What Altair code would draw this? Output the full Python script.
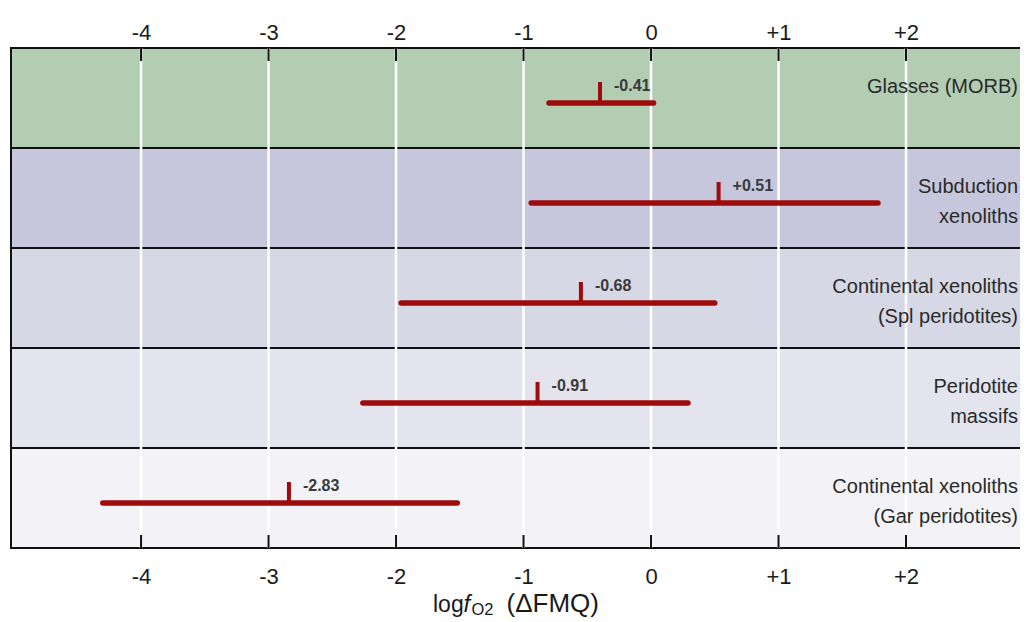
import altair as alt
import pandas as pd

# ---- data ----
categories = [
    "Glasses (MORB)",
    "Subduction xenoliths",
    "Continental xenoliths (Spl peridotites)",
    "Peridotite massifs",
    "Continental xenoliths (Gar peridotites)",
]
label_lines = [
    ["Glasses (MORB)"],
    ["Subduction", "xenoliths"],
    ["Continental xenoliths", "(Spl peridotites)"],
    ["Peridotite", "massifs"],
    ["Continental xenoliths", "(Gar peridotites)"],
]
range_low = [-0.80, -0.94, -1.96, -2.26, -4.30]
range_high = [0.02, 1.78, 0.50, 0.29, -1.52]
median_pos = [-0.40, 0.53, -0.55, -0.89, -2.84]
median_labels = ["-0.41", "+0.51", "-0.68", "-0.91", "-2.83"]
band_colors = ["#b3cdb3", "#c6c7dd", "#d6d8e5", "#e3e4ed", "#f3f3f7"]
tick_values = [-4, -3, -2, -1, 0, 1, 2]
x_domain = [-5.02, 2.894]

W, H = 1009, 500
FONT = "Liberation Sans"
RED = "#9e0b0b"

df = pd.DataFrame({
    "cat": categories,
    "lines": label_lines,
    "lo": range_low,
    "hi": range_high,
    "med": median_pos,
    "mlabel": median_labels,
    "color": band_colors,
})
ticks = pd.DataFrame({"t": tick_values})

xscale = alt.Scale(domain=x_domain, nice=False, zero=False)
yscale = alt.Scale(domain=categories, paddingInner=0, paddingOuter=0)
Y = alt.Y("cat:N", scale=yscale, axis=None, sort=categories)

base = alt.Chart(df)

bands = base.mark_rect(stroke="#111111", strokeWidth=2).encode(
    y=Y,
    x=alt.value(0),
    x2=alt.value(W + 6),
    fill=alt.Color("color:N", scale=None),
)

label_expr = "(datum.value > 0 ? '+' : '') + toString(datum.value)"

grid = alt.Chart(ticks).mark_rule(color="white", strokeWidth=2.5).encode(
    x=alt.X("t:Q", scale=xscale, title=None,
            axis=alt.Axis(orient="top", values=tick_values, labelExpr=label_expr,
                          ticks=False, tickSize=0, domain=False, grid=False,
                          labelFontSize=22, labelFont=FONT, labelColor="#1a1a1a",
                          labelPadding=4)),
)

top_ticks = alt.Chart(ticks).mark_rule(color="#111111", strokeWidth=2).encode(
    x=alt.X("t:Q", scale=xscale, title=None,
            axis=alt.Axis(orient="bottom", values=tick_values, labelExpr=label_expr,
                          ticks=False, tickSize=0, domain=False, grid=False,
                          labelFontSize=22, labelFont=FONT, labelColor="#1a1a1a",
                          labelPadding=18)),
    y=alt.value(0),
    y2=alt.value(13),
)

bottom_ticks = alt.Chart(ticks).mark_rule(color="#111111", strokeWidth=2).encode(
    x=alt.X("t:Q", scale=xscale, axis=None),
    y=alt.value(H - 13),
    y2=alt.value(H),
)

ranges = base.mark_rule(color=RED, strokeWidth=5.5, strokeCap="round", yOffset=5).encode(
    x=alt.X("lo:Q", scale=xscale, axis=None),
    x2="hi:Q",
    y=Y,
)

medians = base.mark_tick(color=RED, orient="vertical", size=23, thickness=4,
                         opacity=1, yOffset=-4.5).encode(
    x=alt.X("med:Q", scale=xscale, axis=None),
    y=Y,
)

med_text = base.mark_text(align="left", baseline="middle", dx=14, dy=-12,
                          font=FONT, fontSize=16, fontWeight="bold",
                          color="#3a3a3a").encode(
    x=alt.X("med:Q", scale=xscale, axis=None),
    y=Y,
    text="mlabel:N",
)

cat_text = base.mark_text(align="right", baseline="alphabetic", dy=-5,
                          font=FONT, fontSize=20, lineHeight=30,
                          color="#2a2a2a").encode(
    x=alt.value(W - 2),
    y=Y,
    text="lines",
)

# axis title: log f_O2 (ΔFMQ) built from styled pieces
cx = W / 2
title_parts = [
    ("log", -82.5, H + 64, 23, "normal"),
    ("f", -52, H + 64, 24, "italic"),
    ("O2", -44, H + 67, 16.5, "normal"),
    ("(\u0394FMQ)", -9, H + 64, 26, "normal"),
]
title_layers = []
for txt, off, yy, fs, style in title_parts:
    title_layers.append(
        alt.Chart(pd.DataFrame({"s": [txt]})).mark_text(
            align="left", baseline="alphabetic", font=FONT, fontSize=fs,
            fontStyle=style, color="#1a1a1a").encode(
            x=alt.value(cx + off), y=alt.value(yy), text="s:N")
    )

chart = alt.layer(
    bands, grid, top_ticks, bottom_ticks, ranges, medians, med_text, cat_text,
    *title_layers
).resolve_axis(x="independent").properties(
    width=W, height=H,
    autosize=alt.AutoSizeParams(type="none"),
    padding={"left": 3, "top": 40, "right": 0, "bottom": 72},
).configure_view(stroke=None).configure(background="white")

chart.save("out.html", embed_options={"renderer": "svg", "actions": False})
